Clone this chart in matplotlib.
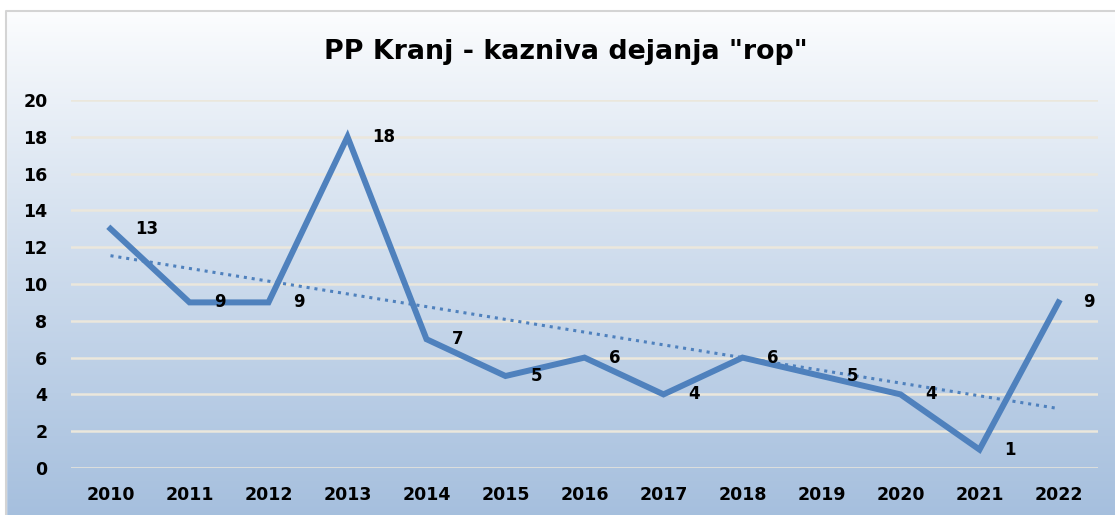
import numpy as np
import matplotlib.pyplot as plt
from matplotlib.patches import Rectangle

# podatki
leta = ['2010', '2011', '2012', '2013', '2014', '2015', '2016',
        '2017', '2018', '2019', '2020', '2021', '2022']
rop = [13, 9, 9, 18, 7, 5, 6, 4, 6, 5, 4, 1, 9]
y_ticks = [0, 2, 4, 6, 8, 10, 12, 14, 16, 18, 20]

modra = '#4f81bd'
pisava = ['DejaVu Sans']

fig = plt.figure(figsize=(11.15, 5.15), dpi=100)

# ozadje z gradientom (belo zgoraj, modro spodaj)
bg = fig.add_axes([0, 0, 1, 1], zorder=0)
grad = np.linspace(0, 1, 256).reshape(-1, 1)
top = np.array([1.0, 1.0, 1.0])
bot = np.array([0.65, 0.75, 0.87])
img = top + (bot - top) * grad[:, :, None] ** 0.9
img = img.reshape(256, 1, 3)
bg.imshow(img, aspect='auto', extent=[0, 1, 0, 1], origin='upper')
# bela obroba levo in zgoraj
bg.add_patch(Rectangle((0, 0), 6 / 1115, 1, color='white', transform=bg.transAxes))
bg.add_patch(Rectangle((0, 1 - 11 / 515), 1, 11 / 515, color='white', transform=bg.transAxes))
bg.plot([6 / 1115, 6 / 1115, 1], [0, 1 - 11 / 515, 1 - 11 / 515], color='#d4d4d4', lw=1.5)
bg.set_xlim(0, 1)
bg.set_ylim(0, 1)
bg.axis('off')

ax = fig.add_axes([71 / 1115, 47 / 515, (1098 - 71) / 1115, (468 - 100) / 515], zorder=1)
ax.patch.set_alpha(0)

x = np.arange(len(leta))
ax.plot(x, rop, color=modra, lw=4.3, solid_joinstyle='miter', zorder=3)

# linearni trend
k, n = np.polyfit(x, rop, 1)
ax.plot(x, k * x + n, color=modra, lw=2.2, linestyle=(0, (1, 1.6)), zorder=2)

for xi, v in zip(x, rop):
    ax.annotate(str(v), (xi, v), xytext=(18, 0), textcoords='offset points',
                ha='left', va='center', fontsize=12, fontweight='bold', color='black',
                family=pisava, zorder=4)

ax.set_xlim(-0.5, len(leta) - 0.5)
ax.set_ylim(0, 20)
ax.set_yticks(y_ticks)
ax.set_xticks(x)
ax.set_xticklabels(leta)
ax.tick_params(length=0, labelsize=12.5, pad=13)
ax.tick_params(axis='y', pad=17)
for lab in ax.get_xticklabels() + ax.get_yticklabels():
    lab.set_fontweight('bold')
    lab.set_family(pisava)
ax.yaxis.grid(True, color='#ebe7dc', lw=1.8)
ax.set_axisbelow(True)
for s in ax.spines.values():
    s.set_visible(False)

fig.text(0.5 + 8 / 1115, 1 - 52 / 515, 'PP Kranj - kazniva dejanja "rop"', ha='center', va='center',
         fontsize=19.4, fontweight='bold', family=pisava)

fig.savefig('out.png', dpi=100)
